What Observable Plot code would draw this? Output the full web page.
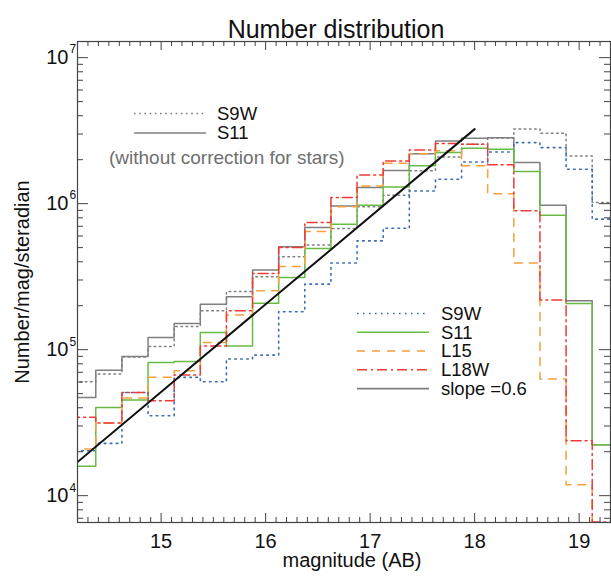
<!DOCTYPE html>
<html>
<head>
<meta charset="utf-8">
<script src="https://cdn.jsdelivr.net/npm/d3@7"></script>
<script src="https://cdn.jsdelivr.net/npm/@observablehq/plot@0.6"></script>
<style>
  body { margin: 0; background: #fff; }
  #chart { position: relative; width: 611px; height: 576px; }
  #chart svg { font-family: "Liberation Sans", Arial, Helvetica, sans-serif; }
</style>
</head>
<body>
<div id="chart"></div>
<script>
// Bin centres (AB magnitude), 0.25 mag wide
const binCenters = [14.25, 14.5, 14.75, 15.0, 15.25, 15.5, 15.75, 16.0, 16.25, 16.5, 16.75,
                    17.0, 17.25, 17.5, 17.75, 18.0, 18.25, 18.5, 18.75, 19.0, 19.25];
const binWidth = 0.25;

// Counts per mag per steradian, before star removal
const s9wRaw = [60300, 68100, 89000, 105000, 144000, 185000, 250000, 316000, 433000, 522000, 676000,
                951000, 1140000, 1680000, 2090000, 2550000, 2820000, 3240000, 3040000, 2120000, 1020000];
const s11Raw = [47100, 72400, 89700, 121000, 151000, 205000, 230000, 351000, 506000, 686000, 962000,
                1290000, 1690000, 2200000, 2690000, 2810000, 2830000, 1910000, 977000, 216000, 22300];

// Counts per mag per steradian, star-corrected
const s9w  = [20300, 22800, 50900, 35300, 64600, 60300, 86300, 91800, 182000, 281000, 392000,
              556000, 679000, 1220000, 1470000, 1930000, 2260000, 2620000, 2420000, 1720000, 783000];
const s11  = [15900, 40200, 45200, 81700, 83000, 131000, 106000, 208000, 312000, 493000, 724000,
              977000, 1300000, 1820000, 2240000, 2400000, 2360000, 1660000, 834000, 207000, 22300];
const l15  = [20900, 31500, 46700, 64600, 71800, 112000, 173000, 253000, 371000, 644000, 951000,
              1320000, 1890000, 2200000, 2300000, 1820000, 1170000, 392000, 63000, 11900, 3000];
const l18w = [34400, 31500, 50900, 44700, 67000, 106000, 185000, 333000, 501000, 743000, 1100000,
              1570000, 1960000, 2330000, 2580000, 2550000, 1850000, 893000, 219000, 23800, 6600];

// Reference power law, slope 0.6 in log N per magnitude
const slopeMag   = [14.2, 18.0];
const slopeValue = [17000, 3240000];

// Axis ticks
const xMajor = [15, 16, 17, 18, 19];
const xMinor = d3.range(143, 194).map(d => d / 10).filter(d => !Number.isInteger(d));
const yMajor = [1e4, 1e5, 1e6, 1e7];
const yExponents = ["4", "5", "6", "7"];
const yMinor = [3, 4, 5, 6].flatMap(e => d3.range(2, 10).map(k => k * 10 ** e)).filter(d => d >= 6600 && d <= 1.29e7 && !yMajor.includes(d));

const W = 611, H = 576;
const mL = 77, mR = 1, mT = 41, mB = 54;
const plotW = W - mL - mR, plotH = H - mT - mB;

const gray = "#7f7f7f";
const series = [
  {label: "S9W", values: s9wRaw, stroke: gray, dash: "1.6,3.6", width: 1.5},
  {label: "S11", values: s11Raw, stroke: gray, dash: null, width: 1.5},
  {label: "S9W", values: s9w, stroke: "#3a6cb8", dash: "1.6,4.4", width: 1.6},
  {label: "S11", values: s11, stroke: "#68bb44", dash: null, width: 1.5},
  {label: "L15", values: l15, stroke: "#f8a03c", dash: "8,7", width: 1.5},
  {label: "L18W", values: l18w, stroke: "#ee3b36", dash: "10,4,2,4", width: 1.5}
];

// Histogram outline: one point per bin's left edge, plus the last right edge
function steps(values) {
  const pts = binCenters.map((c, i) => ({x: c - binWidth / 2, y: values[i]}));
  pts.push({x: binCenters[binCenters.length - 1] + binWidth / 2, y: values[values.length - 1]});
  return pts;
}
const slopeLine = slopeMag.map((m, i) => ({x: m, y: slopeValue[i]}));

const axisColor = "#444";
const tickFont = 20, titleFont = 20, legendFont = 18.5;

const plot = Plot.plot({
  width: W, height: H,
  marginLeft: mL, marginRight: mR, marginTop: mT, marginBottom: mB,
  x: {domain: [14.2, 19.3], axis: null},
  y: {type: "log", domain: [6550, 1.29e7], axis: null},
  style: {fontFamily: "'Liberation Sans', Arial, Helvetica, sans-serif", background: "#fff"},
  marks: [
    ...series.map(s => Plot.line(steps(s.values), {
      x: "x", y: "y", curve: "step-after", clip: true,
      stroke: s.stroke, strokeWidth: s.width, strokeDasharray: s.dash
    })),
    Plot.line(slopeLine, {x: "x", y: "y", stroke: "#111", strokeWidth: 2, clip: true}),

    // inward ticks on all four sides
    Plot.tickX(xMajor, {x: d => d, stroke: axisColor, insetTop: plotH - 9}),
    Plot.tickX(xMajor, {x: d => d, stroke: axisColor, insetBottom: plotH - 9}),
    Plot.tickX(xMinor, {x: d => d, stroke: axisColor, insetTop: plotH - 5}),
    Plot.tickX(xMinor, {x: d => d, stroke: axisColor, insetBottom: plotH - 5}),
    Plot.tickY(yMajor, {y: d => d, stroke: axisColor, insetRight: plotW - 11}),
    Plot.tickY(yMajor, {y: d => d, stroke: axisColor, insetLeft: plotW - 11}),
    Plot.tickY(yMinor, {y: d => d, stroke: axisColor, insetRight: plotW - 6}),
    Plot.tickY(yMinor, {y: d => d, stroke: axisColor, insetLeft: plotW - 6}),
    Plot.frame({stroke: axisColor, strokeWidth: 1.2}),

    // tick labels
    Plot.text(xMajor, {x: d => d, text: d => String(d), frameAnchor: "bottom", dy: 25, fontSize: tickFont, fill: "#111"}),
    Plot.text(yMajor, {y: d => d, text: () => "10", frameAnchor: "left", dx: -9, dy: 0, textAnchor: "end", fontSize: tickFont, fill: "#111"}),
    Plot.text(yMajor, {y: d => d, text: (d, i) => yExponents[i], frameAnchor: "left", dx: -8, dy: -8, textAnchor: "start", fontSize: 12, fill: "#111"}),

    // titles
    Plot.text(["Number distribution"], {frameAnchor: "top", dx: -8, dy: -21, fontSize: 25, fill: "#111"}),
    Plot.text(["magnitude (AB)"], {frameAnchor: "bottom", dx: 8, dy: 44.5, fontSize: titleFont, fill: "#111"}),
    Plot.text(["Number/mag/steradian"], {frameAnchor: "left", dx: -55, rotate: -90, textAnchor: "middle", fontSize: titleFont, fill: "#111"})
  ]
});

document.getElementById("chart").appendChild(plot);

// Legends drawn into the same SVG
const svg = d3.select(plot);
function legend(entries, x0, x1, xt, ys) {
  const g = svg.append("g").attr("text-anchor", "start");
  entries.forEach((s, i) => {
    g.append("line").attr("x1", x0).attr("x2", x1).attr("y1", ys[i]).attr("y2", ys[i])
      .attr("stroke", s.stroke).attr("stroke-width", s.width)
      .attr("stroke-dasharray", s.dash);
    g.append("text").attr("x", xt).attr("y", ys[i]).attr("dy", "0.35em")
      .attr("font-size", legendFont).attr("fill", "#111").text(s.label);
  });
  return g;
}
legend(series.slice(0, 2), 134, 206, 217, [113.5, 133]);
svg.append("text").attr("x", 109).attr("y", 157).attr("dy", "0.35em").attr("text-anchor", "start")
  .attr("font-size", 19).attr("fill", "#6e6e6e").text("(without correction for stars)");

const lowerEntries = [...series.slice(2), {label: "slope =0.6", stroke: gray, dash: null, width: 1.8}];
legend(lowerEntries, 357, 429, 441, [313.5, 332.3, 351, 369.7, 388.7]);
</script>
</body>
</html>
